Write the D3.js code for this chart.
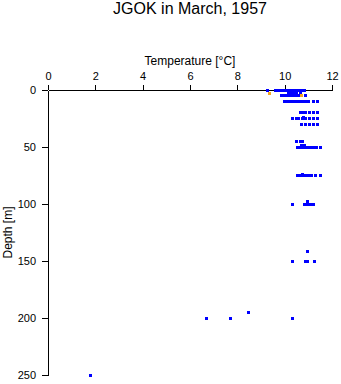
<!DOCTYPE html>
<html>
<head>
<meta charset="utf-8">
<script src="https://cdn.jsdelivr.net/npm/d3@7"></script>
<style>
  body { margin: 0; background: #fff; }
  svg { display: block; }
  text { font-family: "Liberation Sans", Arial, Helvetica, sans-serif; fill: #000; }
</style>
</head>
<body>
<svg id="chart" width="341" height="384"></svg>
<script>
const titleText = "JGOK in March, 1957";
const xLabel = "Temperature [°C]";
const yLabel = "Depth [m]";
const xTicks = [0, 2, 4, 6, 8, 10, 12];
const yTicks = [0, 50, 100, 150, 200, 250];

const blueTemp = [
  9.27, 9.6, 9.72, 9.85, 10.0, 10.1, 10.2, 10.3, 10.4, 10.5, 10.6, 10.7, 10.8, 10.85,
  10.15, 10.25, 10.35, 10.45, 10.5, 10.65,
  9.85, 10.0, 10.1, 10.2, 10.3, 10.4, 10.5, 10.6, 10.9,
  10.0, 10.1, 10.2, 10.3, 10.4, 10.5, 10.6, 10.7, 10.8, 10.9, 11.0, 11.2, 11.4,
  10.65, 10.8, 10.9, 11.05, 11.2, 11.4,
  10.8,
  10.35, 10.5, 10.6, 10.75, 10.9, 11.05, 11.2, 11.4,
  10.7, 10.9, 11.05, 11.2, 11.4,
  10.5, 10.65, 10.75,
  10.7, 10.85,
  10.55, 10.65, 10.75, 10.85, 10.95, 11.05, 11.15, 11.25, 11.35, 11.5,
  10.75,
  10.55, 10.65, 10.8, 10.9, 11.0, 11.15, 11.3, 11.5,
  10.95,
  10.35, 10.85, 10.95, 11.05, 11.15, 11.2,
  10.97,
  10.35, 10.9, 10.98, 11.28,
  8.49,
  6.68, 7.71, 10.35,
  1.8
];
const blueDepth = [
  0, 0, 0, 0, 0, 0, 0, 0, 0, 0, 0, 0, 0, 0,
  2, 2, 2, 2, 2, 2,
  5, 5, 5, 5, 5, 5, 5, 5, 5,
  10, 10, 10, 10, 10, 10, 10, 10, 10, 10, 10, 10, 10,
  20, 20, 20, 20, 20, 20,
  24,
  25, 25, 25, 25, 25, 25, 25, 25,
  30, 30, 30, 30, 30,
  45, 45, 45,
  49, 49,
  50, 50, 50, 50, 50, 50, 50, 50, 50, 50,
  74,
  75, 75, 75, 75, 75, 75, 75, 75,
  98,
  100, 100, 100, 100, 100, 100,
  142,
  150, 150, 150, 150,
  195,
  200, 200, 200,
  250
];
const orangeTemp = [9.38, 10.73];
const orangeDepth = [3, 5];

const svg = d3.select("#chart");
const x = d3.scaleLinear().domain([0, 12]).range([48, 332]);
const y = d3.scaleLinear().domain([0, 250]).range([90, 375]);

svg.append("text")
  .attr("x", 190).attr("y", 13.5)
  .attr("text-anchor", "middle")
  .style("font-size", "16px")
  .text(titleText);

svg.append("text")
  .attr("x", 190).attr("y", 65)
  .attr("text-anchor", "middle")
  .style("font-size", "12px")
  .text(xLabel);

svg.append("text")
  .attr("transform", "translate(12,232.5) rotate(-90)")
  .attr("text-anchor", "middle")
  .style("font-size", "12px")
  .text(yLabel);

const xAxis = svg.append("g")
  .attr("transform", "translate(0,90)")
  .call(d3.axisTop(x).tickValues(xTicks).tickFormat(d3.format("d")).tickSize(5).tickSizeOuter(0).tickPadding(5));
const yAxis = svg.append("g")
  .attr("transform", "translate(48,0)")
  .call(d3.axisLeft(y).tickValues(yTicks).tickFormat(d3.format("d")).tickSize(6).tickSizeOuter(0).tickPadding(6));

[xAxis, yAxis].forEach(g => {
  g.selectAll("text").style("font-size", "11px").style("font-family", "'Liberation Sans', Arial, sans-serif").attr("fill", "#000");
  g.selectAll("line, path").attr("stroke", "#000").attr("shape-rendering", "crispEdges");
});

const s = 3;
const blue = blueTemp.map((t, i) => ({ t, d: blueDepth[i] }));
const orange = orangeTemp.map((t, i) => ({ t, d: orangeDepth[i] }));

svg.append("g").selectAll("rect").data(blue).join("rect")
  .attr("x", d => x(d.t) - s / 2)
  .attr("y", d => y(d.d) - s / 2)
  .attr("width", s).attr("height", s)
  .attr("fill", "#0000ff")
  .attr("shape-rendering", "crispEdges");

svg.append("g").selectAll("rect").data(orange).join("rect")
  .attr("x", d => x(d.t) - s / 2)
  .attr("y", d => y(d.d) - s / 2)
  .attr("width", s).attr("height", s)
  .attr("fill", "#f5a623")
  .attr("shape-rendering", "crispEdges");
</script>
</body>
</html>
